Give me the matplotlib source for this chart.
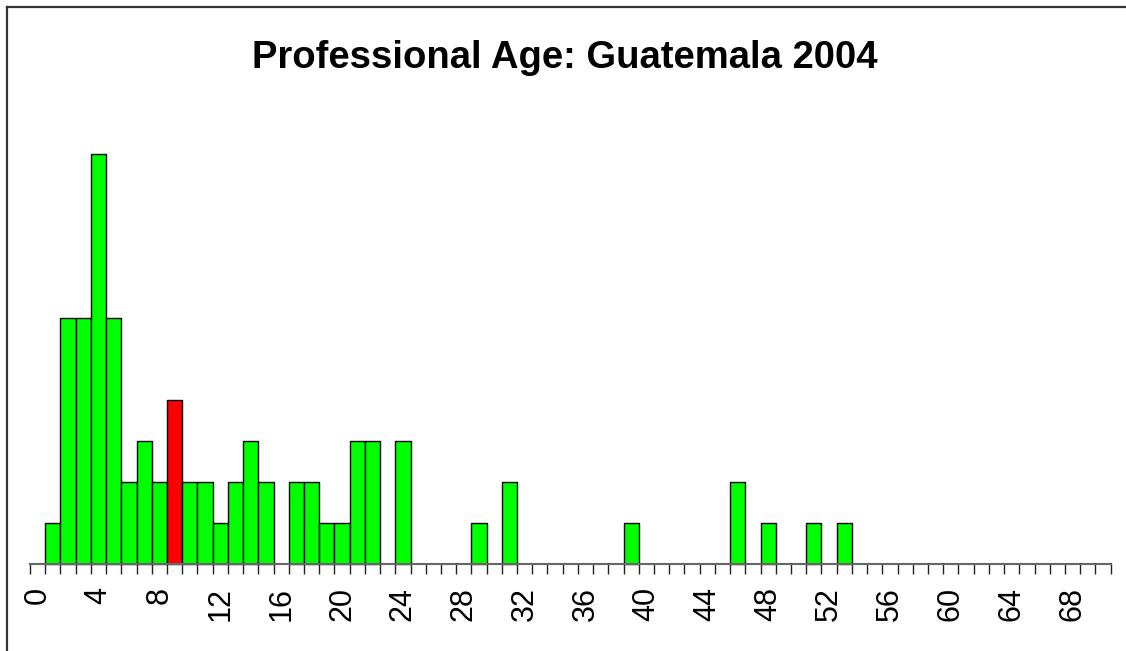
import matplotlib
matplotlib.use('Agg')
import matplotlib.pyplot as plt
from matplotlib.lines import Line2D

# counts per professional age (years), ages 0..70
ages = list(range(71))
counts = [0, 1, 6, 6, 10, 6, 2, 3, 2, 4,
          2, 2, 1, 2, 3, 2, 0, 2, 2, 1,
          1, 3, 3, 0, 3, 0, 0, 0, 0, 1,
          0, 2, 0, 0, 0, 0, 0, 0, 0, 1,
          0, 0, 0, 0, 0, 0, 2, 0, 1, 0,
          0, 1, 0, 1, 0, 0, 0, 0, 0, 0,
          0, 0, 0, 0, 0, 0, 0, 0, 0, 0,
          0]
highlight_age = 9
tick_labels = [str(a) for a in range(0, 71, 4)]
title = 'Professional Age: Guatemala 2004'

W, H = 1126, 651
plt.rcParams['font.family'] = ['Liberation Sans', 'DejaVu Sans']
fig = plt.figure(figsize=(W / 100, H / 100), dpi=100)

# axes placed in pixel terms: x 0..71 -> px 30..1110.6, y 0..10 -> px 563.5..154.5
x0, x1 = 30, 30 + 71 * 15.22
ybase, ytop = 563.5, 154.5
ax = fig.add_axes([x0 / W, 1 - ybase / H, (x1 - x0) / W, (ybase - ytop) / H])

colors = ['#ff0000' if a == highlight_age else '#00ff00' for a in ages]
shown = [i for i, c in enumerate(counts) if c > 0]
ax.bar([ages[i] for i in shown], [counts[i] for i in shown], width=1, align='edge',
       color=[colors[i] for i in shown], edgecolor='black', linewidth=1, clip_on=False)

ax.set_xlim(0, 71)
ax.set_ylim(0, 10)

for s in ['top', 'right', 'left']:
    ax.spines[s].set_visible(False)
ax.spines['bottom'].set_color('#666666')
ax.spines['bottom'].set_linewidth(1.5)
ax.set_yticks([])

ax.set_xticks(range(0, 72))
ax.set_xticklabels([])
ax.tick_params(axis='x', which='major', length=7.5, width=1, color='#222222', direction='out')
ax.set_xticks([a + 0.5 for a in range(0, 71, 4)], minor=True)
ax.set_xticklabels(tick_labels, minor=True, fontsize=22, rotation=90)
ax.tick_params(axis='x', which='minor', length=0, pad=17)

fig.text(565 / W, 1 - 68 / H, title, ha='center', va='baseline',
         fontsize=27.5, fontweight='bold')

# frame line on top and left edge
fig.add_artist(Line2D([6.5 / W, 1], [1 - 6.5 / H, 1 - 6.5 / H], color='#333333', lw=1.6))
fig.add_artist(Line2D([6.5 / W, 6.5 / W], [0, 1 - 6.5 / H], color='#333333', lw=1.6))

fig.savefig('out.png', dpi=100)
